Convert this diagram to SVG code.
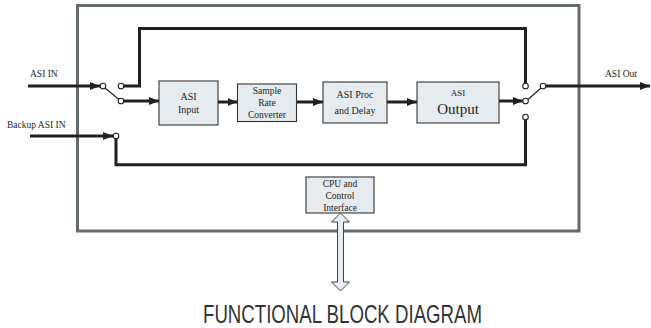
<svg xmlns="http://www.w3.org/2000/svg" width="651" height="328" viewBox="0 0 651 328">
<defs>
<style>
.frame{fill:none;stroke:#646b6e;stroke-width:3}
.wire{fill:none;stroke:#231f20;stroke-width:3}
.lever{fill:none;stroke:#231f20;stroke-width:1.1}
.sw{fill:#fff;stroke:#231f20;stroke-width:1.1}
.box{fill:#e6ebf0;stroke:#333;stroke-width:1.1}
.t{font-family:"Liberation Serif","Times New Roman",serif;fill:#231f20;text-anchor:middle}
.lbl{font-family:"Liberation Serif","Times New Roman",serif;fill:#231f20;font-size:9.5px}
.title{font-family:"Liberation Sans",Arial,sans-serif;fill:#333;font-size:26px}
</style>
<marker id="ah" viewBox="0 0 10 8" refX="10" refY="4" markerWidth="10" markerHeight="8" markerUnits="userSpaceOnUse" orient="auto">
<path d="M0,0 L10,4 L0,8 z" fill="#231f20"/>
</marker>
</defs>
<rect class="frame" x="77.5" y="5.5" width="501.5" height="225.5"/>
<g id="connectors">
<line class="wire" x1="28" y1="86" x2="100" y2="86" marker-end="url(#ah)"/>
<polyline class="wire" points="124,86 139.5,86 139.5,28.5 525.5,28.5 525.5,83"/>
<line class="lever" x1="105" y1="88" x2="119" y2="99.5"/>
<line class="wire" x1="124" y1="101" x2="159" y2="101" marker-end="url(#ah)"/>
<line class="wire" x1="30" y1="136" x2="113" y2="136" marker-end="url(#ah)"/>
<polyline class="wire" points="116,139 116,164.7 525.5,164.7 525.5,120"/>
<line class="wire" x1="218" y1="102" x2="237.5" y2="102" marker-end="url(#ah)"/>
<line class="wire" x1="297" y1="102" x2="323" y2="102" marker-end="url(#ah)"/>
<line class="wire" x1="387" y1="102" x2="417" y2="102" marker-end="url(#ah)"/>
<line class="wire" x1="499" y1="101" x2="523" y2="101" marker-end="url(#ah)"/>
<line class="lever" x1="528" y1="99.5" x2="541" y2="88"/>
<line class="wire" x1="546" y1="86" x2="650" y2="86" marker-end="url(#ah)"/>
<circle class="sw" cx="103" cy="86" r="2.8"/>
<circle class="sw" cx="121" cy="86" r="2.8"/>
<circle class="sw" cx="121" cy="101" r="2.8"/>
<circle class="sw" cx="116" cy="136" r="2.8"/>
<circle class="sw" cx="525.5" cy="86" r="2.8"/>
<circle class="sw" cx="525.5" cy="101" r="2.8"/>
<circle class="sw" cx="525.5" cy="117" r="2.8"/>
<circle class="sw" cx="543" cy="86" r="2.8"/>
</g>
<text class="lbl" x="30" y="77">ASI IN</text>
<text class="lbl" x="7" y="128">Backup ASI IN</text>
<text class="lbl" x="605" y="77">ASI Out</text>
<g id="asi-input">
<rect class="box" x="159" y="81" width="59" height="44"/>
<text class="t" x="188.5" y="100" font-size="10">ASI</text>
<text class="t" x="188.5" y="113" font-size="10">Input</text>
</g>
<g id="src">
<rect class="box" x="237.5" y="84" width="59" height="37.5"/>
<text class="t" x="267" y="94" font-size="9.5">Sample</text>
<text class="t" x="267" y="106" font-size="9.5">Rate</text>
<text class="t" x="267" y="118" font-size="9.5">Converter</text>
</g>
<g id="asi-proc">
<rect class="box" x="323" y="82" width="64" height="41"/>
<text class="t" x="355" y="98" font-size="10">ASI  Proc</text>
<text class="t" x="355" y="114" font-size="10">and Delay</text>
</g>
<g id="asi-output">
<rect class="box" x="417" y="82" width="82" height="41"/>
<text class="t" x="458" y="96" font-size="9">ASI</text>
<text class="t" x="458" y="114" font-size="15">Output</text>
</g>
<g id="cpu">
<rect class="box" x="306" y="177" width="68" height="36"/>
<text class="t" x="340" y="187" font-size="9.5">CPU and</text>
<text class="t" x="340" y="199" font-size="9.5">Control</text>
<text class="t" x="340" y="211" font-size="9.5">Interface</text>
</g>
<g id="bus-arrow">
<polygon points="340.5,213 349.5,222 343.5,222 343.5,282 349.5,282 340.5,291 331.5,282 337.5,282 337.5,222 331.5,222" fill="#e8eef3" stroke="#444" stroke-width="1"/>
</g>
<text class="title" x="203" y="323" textLength="279" lengthAdjust="spacingAndGlyphs">FUNCTIONAL BLOCK DIAGRAM</text>
</svg>
